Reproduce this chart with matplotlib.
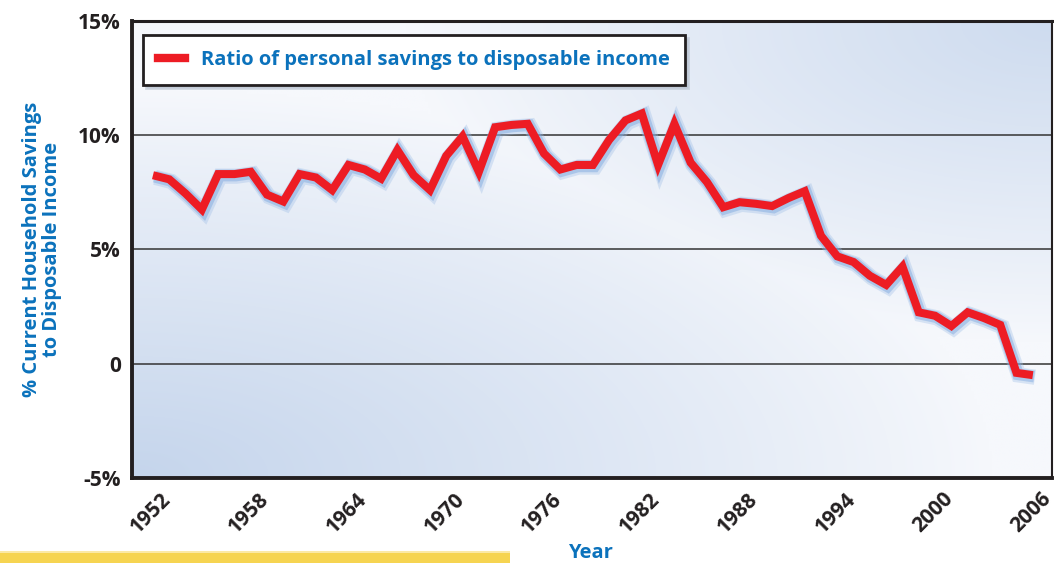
import numpy as np
import matplotlib
matplotlib.use("Agg")
import matplotlib.pyplot as plt
import matplotlib.patheffects as pe
from matplotlib.lines import Line2D
from matplotlib.patches import Rectangle
from matplotlib.colors import to_rgb

plt.rcParams["font.family"] = ["Open Sans", "DejaVu Sans"]

# ── Data ─────────────────────────────────────────────────────────────────────
years = list(range(1952, 2007))
savings = [8.25, 8.07, 7.45, 6.75, 8.3, 8.3, 8.4, 7.4, 7.1, 8.3,
           8.15, 7.6, 8.7, 8.5, 8.1, 9.35, 8.25, 7.6, 9.1, 9.95,
           8.4, 10.35, 10.45, 10.5, 9.2, 8.5, 8.7, 8.7, 9.8, 10.65,
           10.95, 8.7, 10.5, 8.8, 7.95, 6.85, 7.07, 7.0, 6.9, 7.25,
           7.55, 5.6, 4.7, 4.45, 3.85, 3.45, 4.25, 2.25, 2.1, 1.65,
           2.25, 2.0, 1.7, -0.4, -0.5]
xticks = list(range(1952, 2007, 6))
yticks = [-5, 0, 5, 10, 15]
ytick_labels = ["-5%", "0", "5%", "10%", "15%"]

RED = "#ED1C24"
BLUE = "#0B72BC"
INK = "#231F20"

# ── Layout ───────────────────────────────────────────────────────────────────
fig = plt.figure(figsize=(10.54, 5.63), dpi=100)
fig.patch.set_facecolor("white")
ax = fig.add_axes([0.1252, 0.151, 0.8728, 0.8117])

# background gradient: bluish at bottom-left and top-right, pale in between
nx, ny = 300, 160
gx, gy = np.meshgrid(np.linspace(0, 1, nx), np.linspace(0, 1, ny))
b1 = np.clip(1 - np.hypot(gx / 1.1, gy / 1.0) / 0.85, 0, 1)
b2 = np.clip(1 - np.hypot((1 - gx) / 1.0, (1 - gy) / 1.0) / 0.7, 0, 1) * 0.8
t = np.maximum(b1, b2) ** 0.9
c_in = np.array(to_rgb("#f6f8fc"))
c_out = np.array(to_rgb("#c5d5ec"))
img = c_in[None, None, :] * (1 - t[..., None]) + c_out[None, None, :] * t[..., None]
ax.imshow(img, extent=[0, 1, 0, 1], transform=ax.transAxes, origin="lower",
          aspect="auto", zorder=0, interpolation="bilinear")

# gridlines
for v in [0, 5, 10]:
    ax.axhline(v, color="#333333", linewidth=1.1, zorder=1)

# main line with soft blue glow
glow = [pe.Stroke(linewidth=11, foreground="#9dbde6", alpha=0.35, offset=(1.5, -1.5)),
        pe.Stroke(linewidth=8.5, foreground="#7aa6de", alpha=0.45, offset=(1, -1)),
        pe.Normal()]
ax.plot(years, savings, color=RED, linewidth=5.8, solid_joinstyle="miter",
        solid_capstyle="butt", zorder=3, path_effects=glow)

ax.set_xlim(1950.71, 2007.17)
ax.set_ylim(-5, 15)

ax.set_yticks(yticks)
ax.set_yticklabels(ytick_labels, fontsize=15, fontweight="bold", color=INK)
ax.set_xticks(xticks)
ax.set_xticklabels([])
# rotated year labels, shifted a little right of each tick as in the original
for yr in xticks:
    ax.annotate(str(yr), xy=(yr, 0), xycoords=("data", "axes fraction"),
                xytext=(15, -18), textcoords="offset pixels",
                rotation=45, rotation_mode="anchor", ha="right", va="center",
                fontsize=15, fontweight="bold", color=INK, annotation_clip=False)
ax.tick_params(axis="both", length=0)
ax.tick_params(axis="y", pad=8)

for side, lw in [("left", 2.8), ("bottom", 2.8), ("top", 2.2), ("right", 1.5)]:
    ax.spines[side].set_linewidth(lw)
    ax.spines[side].set_color(INK)

ax.set_ylabel("% Current Household Savings\nto Disposable Income", fontsize=14.5,
              fontweight="bold", color=BLUE, linespacing=1.0)
ax.yaxis.set_label_coords(-0.076, 0.5)
fig.text(0.56, 0.018, "Year", fontsize=14.5, fontweight="bold", color=BLUE,
         ha="center", va="center")

# legend
handle = Line2D([0], [0], color=RED, linewidth=6)
leg = ax.legend([handle], ["Ratio of personal savings to disposable income"],
                loc="upper left", bbox_to_anchor=(0.012, 0.969),
                borderaxespad=0, prop={"weight": "bold", "size": 14.5},
                labelcolor=BLUE, handlelength=1.35, handletextpad=0.8,
                borderpad=0.75, fancybox=False, framealpha=1,
                edgecolor=INK, shadow={"color": "#b8c2d0", "alpha": 0.6})
leg.get_frame().set_linewidth(2)
leg.set_zorder(5)

# decorative yellow bar at the bottom
fig.patches.append(Rectangle((0, 0), 0.484, 0.017, transform=fig.transFigure,
                             facecolor="#f6d451", edgecolor="none", zorder=0))
fig.patches.append(Rectangle((0, 0.017), 0.484, 0.004, transform=fig.transFigure,
                             facecolor="#fbe9a6", edgecolor="none", zorder=0))

fig.savefig("out.png", dpi=100)
